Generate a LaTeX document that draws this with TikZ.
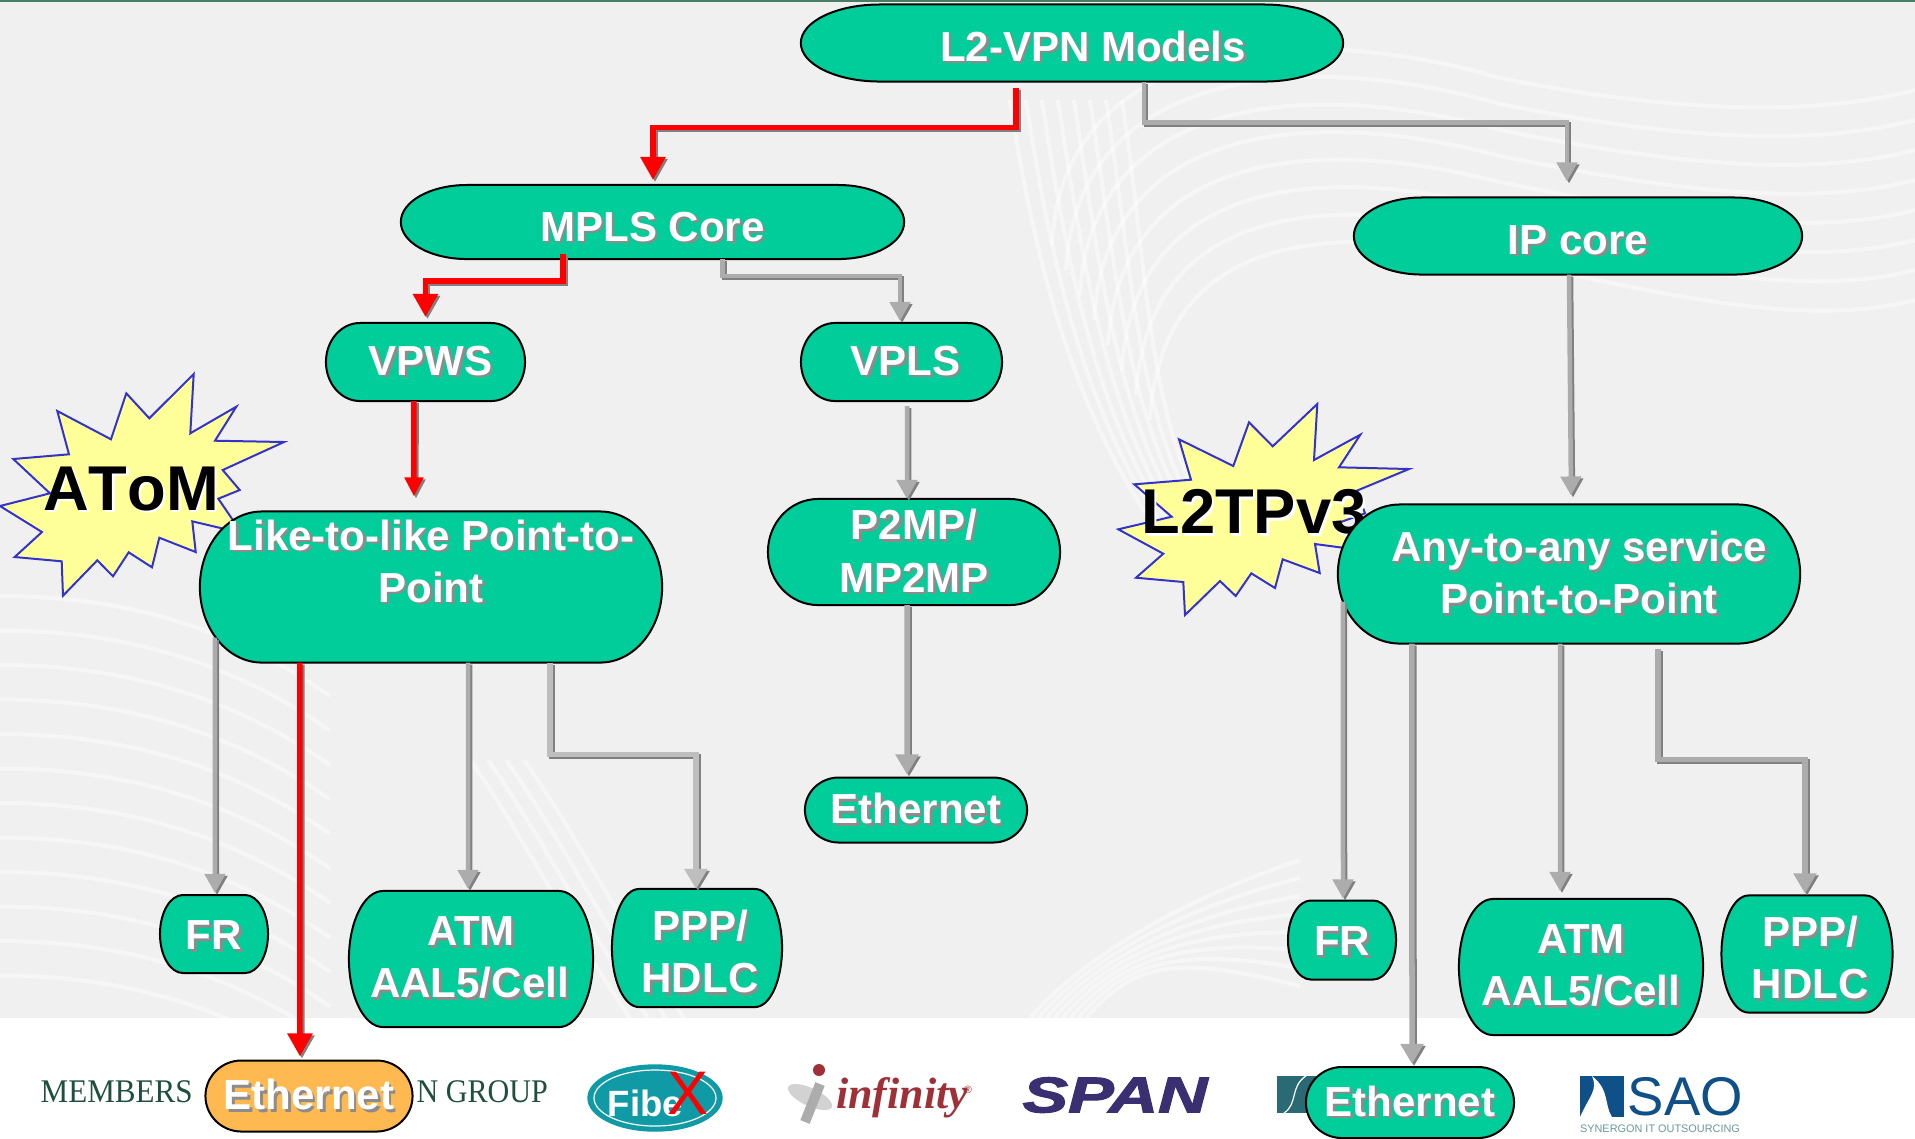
\documentclass[tikz,border=0pt]{standalone}
\usepackage{fontspec}
\usepackage{graphicx}
\setmainfont{Liberation Sans}
\newfontfamily\logoserif{Liberation Serif}
\newfontfamily\nokern[Kerning=Off]{Liberation Sans}
\newfontfamily\spanfont[BoldItalicFeatures={FakeBold=2}]{Liberation Sans}
\usetikzlibrary{arrows.meta}
\definecolor{nodegreen}{RGB}{0,205,154}
\definecolor{nodeorange}{RGB}{255,185,80}
\definecolor{backgray}{RGB}{240,240,240}
\definecolor{topgreen}{RGB}{70,125,100}
\definecolor{txtshadow}{RGB}{140,140,140}
\definecolor{linegray}{RGB}{172,172,172}
\definecolor{lightline}{RGB}{190,190,190}
\definecolor{lineshadow}{RGB}{128,128,128}
\definecolor{starfill}{RGB}{255,255,153}
\definecolor{starline}{RGB}{51,51,204}
\definecolor{fibeteal}{RGB}{15,154,165}
\definecolor{infred}{RGB}{160,48,56}
\definecolor{spanblue}{RGB}{58,47,112}
\definecolor{saoblue}{RGB}{15,80,136}
\definecolor{memgreen}{RGB}{31,79,63}
\definecolor{boxteal}{RGB}{42,106,116}

\makeatletter
\pgfdeclareshape{terminator}{
  \inheritsavedanchors[from=rectangle]
  \inheritanchorborder[from=rectangle]
  \inheritanchor[from=rectangle]{center}
  \inheritanchor[from=rectangle]{north}
  \inheritanchor[from=rectangle]{south}
  \inheritanchor[from=rectangle]{east}
  \inheritanchor[from=rectangle]{west}
  \backgroundpath{
    \southwest \edef\termxa{\the\pgf@x}\edef\termya{\the\pgf@y}
    \northeast \edef\termxb{\the\pgf@x}\edef\termyb{\the\pgf@y}
    \pgfmathsetlengthmacro{\termry}{(\termyb-\termya)/2}
    \pgfpathmoveto{\pgfpoint{\termxa+\termrx}{\termyb}}
    \pgfpathlineto{\pgfpoint{\termxb-\termrx}{\termyb}}
    \pgfpatharc{90}{-90}{\termrx and \termry}
    \pgfpathlineto{\pgfpoint{\termxa+\termrx}{\termya}}
    \pgfpatharc{270}{90}{\termrx and \termry}
    \pgfpathclose
  }
}
\makeatother

\newcommand{\shline}[2][txtshadow]{\makebox[0pt][l]{\hspace{.025cm}\raisebox{-.025cm}{\textcolor{#1}{#2}}}#2}
\newcommand{\lowered}[1]{\rule{0pt}{#1}}
\newcommand{\connector}[2]{\draw [#1, shadowcopy] #2; \draw [#1] #2;}

\tikzset{
  terminal/.style n args={3}{shape=terminator, draw=black, line width=.02cm, fill=nodegreen, text=white,
    minimum width=#1, minimum height=#2, inner sep=0pt, outer sep=0pt, align=center,
    font=\fontsize{11.95}{14.8}\selectfont\bfseries, /utils/exec={\def\termrx{#3}}},
  starshape/.style={draw=starline, fill=starfill, line width=.02cm, line join=miter},
  starlabel/.style={text=black, inner sep=0pt, font=\fontsize{18}{20}\selectfont\bfseries},
  streak/.style={draw=white, line width=.04cm, opacity=.45},
  arrow/.style={-{Triangle[width=.2cm,length=.19cm]}, draw=linegray, line width=.045cm},
  widearrow/.style={arrow, -{Triangle[width=.22cm,length=.2cm]}, line width=.055cm},
  lightarrow/.style={widearrow, draw=lightline},
  redarrow/.style={arrow, -{Triangle[width=.24cm,length=.23cm]}, draw=red, line width=.055cm},
  smallredarrow/.style={redarrow, -{Triangle[width=.18cm,length=.19cm]}},
  shadowcopy/.style={draw=lineshadow, transform canvas={xshift=.02cm,yshift=-.02cm}},
  logotext/.style={inner sep=0pt}
}

\begin{document}
\begin{tikzpicture}[x=.01cm,y=-.01cm]
    \useasboundingbox (0,0) rectangle (1915,1138);

    % background
    \fill [backgray] (0,0) rectangle (1915,1018);
    \fill [topgreen] (0,0) rectangle (1915,2);
    \begin{scope}
        \clip (0,2) rectangle (1915,1018);
        \foreach \i in {0,...,7} {
            \draw [streak] (1150-14*\i,420-25*\i) .. controls (1160-14*\i,250-30*\i) and (1300,215-28*\i) .. (1500,260-26*\i)
                .. controls (1650,290-26*\i) and (1800,330-30*\i) .. (1915,300-30*\i);
            \draw [streak] (1010+16*\i,100) .. controls (1040+16*\i,300) and (1090+8*\i,450) .. (1180+8*\i,560);
            \draw [streak] (1030+8*\i,1018) .. controls (1080+8*\i,960) and (1180,900+8*\i) .. (1300,860+18*\i);
        }
        \foreach \i in {0,...,11}
            \draw [streak] (0,596+34.5*\i) .. controls (120,596+34.5*\i) and (230,626+34.5*\i) .. (330,696+34.5*\i);
        \foreach \i in {0,...,3}
            \draw [streak] (470+18*\i,760) .. controls (520+18*\i,830) and (570+18*\i,930) .. (630+18*\i,1018);
    \end{scope}

    % logos along the bottom
    \node (members) [logotext, anchor=west, text=memgreen, font=\logoserif\fontsize{9.4}{10}\selectfont] at (40,1092) {\scalebox{.94}[1]{MEMBERS}};
    \node (group) [logotext, anchor=west, text=memgreen, font=\logoserif\fontsize{9.4}{10}\selectfont] at (416,1092) {\scalebox{.91}[1]{N GROUP}};

    \draw [fill=fibeteal, draw=fibeteal] (655,1098) ellipse (67 and 33);
    \draw [draw=white, line width=.012cm] (655,1098) ellipse (61 and 28);
    \node (fibe) [logotext, text=white, font=\fontsize{10.4}{12}\selectfont\bfseries] at (645.5,1103) {Fibe};
    \node (fibex) [logotext, text=red, font=\fontsize{17.5}{18}\selectfont] at (688,1093) {X};

    \fill [rotate around={-25:(810,1097)}, gray!35] (810,1097) ellipse (24 and 9);
    \draw [line width=.1cm, gray!65] (820,1084) -- (805,1122);
    \fill [infred] (819,1070) circle (6);
    \node (infinity) [logotext, text=infred, font=\logoserif\bfseries\itshape\fontsize{12.5}{14}\selectfont] at (902,1098) {infinity};
    \node (regmark) [logotext, text=infred, font=\fontsize{3}{4}\selectfont] at (968,1090) {®};

    \node (span) [logotext, text=spanblue, font=\spanfont\fontsize{14.3}{16}\selectfont\bfseries\itshape] at (1115,1095) {\scalebox{1.36}[1]{SPAN}};

    \fill [boxteal] (1277,1076) rectangle (1330,1113);
    \draw [white, line width=.012cm] (1284,1113) .. controls (1298,1104) and (1290,1086) .. (1306,1076);

    \fill [saoblue] (1580,1076) rectangle (1624,1117);
    \fill [white] (1580,1117) .. controls (1590,1095) and (1598,1090) .. (1592,1076)
        .. controls (1610,1090) and (1604,1105) .. (1612,1117) -- cycle;
    \node (sao) [logotext, anchor=west, text=saoblue, font=\fontsize{15.5}{17}\selectfont] at (1627,1097) {SAO};
    \node (synergon) [logotext, text=boxteal!70, font=\fontsize{3.1}{4}\selectfont] at (1660,1129) {SYNERGON IT OUTSOURCING};

    % stars
    \draw [starshape] (193.7,374) -- (190.3,433.3) -- (236.3,406.7) -- (215,440.7) -- (284,442) -- (222.7,470) -- (239.7,490)
        -- (218.3,498.7) -- (241.7,533) -- (192.3,521.3) -- (195.7,552) -- (159.3,537.7) -- (152,567.3) -- (128.7,552.3)
        -- (113,576.3) -- (97.3,560.3) -- (63,595.7) -- (61.7,561.3) -- (14.7,557) -- (42,532) -- (0,506) -- (50,493.3)
        -- (13.3,459) -- (69,454.3) -- (57.3,411) -- (111,439.3) -- (126.3,393.3) -- (149.3,418.3) -- cycle;
    \draw [starshape] (1317.3,404) -- (1314,460) -- (1360.3,434.7) -- (1339,467.3) -- (1409,469) -- (1356.7,490.7) -- (1365,513.3)
        -- (1338,523) -- (1360,550) -- (1315,544) -- (1319.7,573) -- (1282.7,559.3) -- (1275,588) -- (1251.3,573.3)
        -- (1235.7,596) -- (1220,581) -- (1185,615) -- (1183.3,582) -- (1136,577.7) -- (1163.3,553.7) -- (1118.3,529.3)
        -- (1171.7,516.7) -- (1134.3,484.3) -- (1191,479.7) -- (1179,439.3) -- (1233.3,466) -- (1249,422.3) -- (1272.7,446.3) -- cycle;
    \node (atom) [starlabel] at (131,490) {\nokern\bfseries\shline[white]{AToM}};
    \node (l2tp) [starlabel] at (1254,513) {\shline[white]{L2TPv3}};

    % nodes
    \node (l2vpn) [terminal={5.42cm}{.77cm}{.79cm}] at (1072,43) {\lowered{.39cm}\hspace*{.42cm}\shline{L2-VPN Models}};
    \node (mpls) [terminal={5.03cm}{.74cm}{.66cm}] at (652.5,222) {\lowered{.41cm}\shline{MPLS Core}};
    \node (ipcore) [terminal={4.48cm}{.77cm}{.68cm}] at (1578,236) {\lowered{.39cm}\shline{IP core}};
    \node (vpws) [terminal={1.99cm}{.78cm}{.34cm}] at (425.5,362) {\hspace*{.1cm}\shline{VPWS}};
    \node (vpls) [terminal={2.01cm}{.78cm}{.34cm}] at (901.5,362) {\hspace*{.08cm}\shline{VPLS}};
    \node (like) [terminal={4.62cm}{1.51cm}{.62cm}] at (431,587) {\shline{Like-to-like Point-to-}\\\shline{Point}\\\mbox{}};
    \node (p2mp) [terminal={2.92cm}{1.06cm}{.5cm}] at (914,552) {\shline{P2MP/}\\\shline{MP2MP}};
    \node (any) [terminal={4.62cm}{1.39cm}{.62cm}] at (1569,574) {\hspace*{.2cm}\shline{Any-to-any service}\\\hspace*{.2cm}\shline{Point-to-Point}};
    \node (ethmid) [terminal={2.22cm}{.65cm}{.34cm}] at (916,810) {\shline{Ethernet}};
    \node (frleft) [terminal={1.08cm}{.78cm}{.23cm}] at (214,934) {\lowered{.34cm}\shline{FR}};
    \node (atmleft) [terminal={2.44cm}{1.36cm}{.34cm}] at (471,959) {\shline{ATM}\\\shline{AAL5/Cell}\hspace*{.03cm}};
    \node (pppleft) [terminal={1.7cm}{1.18cm}{.27cm}] at (697,948) {\lowered{.4cm}\hspace*{.06cm}\shline{PPP/}\\\hspace*{.06cm}\shline{HDLC}};
    \node (frright) [terminal={1.08cm}{.79cm}{.23cm}] at (1342,940) {\lowered{.34cm}\shline{FR}};
    \node (atmright) [terminal={2.44cm}{1.36cm}{.34cm}] at (1581,967) {\shline{ATM}\\\shline{AAL5/Cell}};
    \node (pppright) [terminal={1.71cm}{1.17cm}{.27cm}] at (1807,954) {\lowered{.4cm}\hspace*{.06cm}\shline{PPP/}\\\hspace*{.06cm}\shline{HDLC}};
    \node (ethleft) [terminal={2.07cm}{.71cm}{.36cm}, fill=nodeorange] at (309,1096) {\shline{Ethernet}};
    \node (ethright) [terminal={2.08cm}{.71cm}{.36cm}] at (1410,1102.5) {\shline{Ethernet}};

    % connectors
    \connector{redarrow}{([xshift=-.56cm,yshift=-.06cm]l2vpn.south) -- ++(0,40) -| ([xshift=.005cm,yshift=.05cm]mpls.north)}
    \connector{arrow}{([xshift=.72cm]l2vpn.south) -- ++(0,41) -| ([xshift=-.11cm,yshift=.16cm]ipcore.north)}
    \connector{redarrow}{([xshift=-.895cm,yshift=.05cm]mpls.south) -- ++(0,27) -| ([yshift=.06cm]vpws.north)}
    \connector{arrow}{([xshift=.7cm]mpls.south) -- ++(0,17) -| ([xshift=-.015cm,yshift=.02cm]vpls.north)}
    \connector{smallredarrow}{([xshift=-.115cm]vpws.south) -- ([xshift=-.17cm,yshift=.15cm]like.north)}
    \connector{arrow}{([xshift=.055cm,yshift=-.05cm]vpls.south) -- ([xshift=-.07cm]p2mp.north)}
    \connector{widearrow}{([xshift=-.07cm]p2mp.south) -- ([xshift=-.09cm,yshift=.03cm]ethmid.north)}
    \connector{arrow}{([xshift=-2.16cm,yshift=.25cm]like.south) -- ([xshift=.01cm,yshift=.02cm]frleft.north)}
    \connector{redarrow}{([xshift=-1.31cm]like.south) -- ([xshift=-.09cm,yshift=.04cm]ethleft.north)}
    \connector{arrow}{([xshift=.37cm]like.south) -- ([xshift=-.03cm,yshift=.02cm]atmleft.north)}
    \connector{lightarrow}{([xshift=1.19cm]like.south) -- ++(0,92) -| ([xshift=-.01cm]pppleft.north)}
    \connector{arrow}{([xshift=-.09cm]ipcore.south) -- ([xshift=.02cm,yshift=.09cm]any.north)}
    \connector{arrow}{([xshift=-2.26cm,yshift=.42cm]any.south) -- ([xshift=.01cm,yshift=.02cm]frright.north)}
    \connector{widearrow}{([xshift=-1.57cm]any.south) -- ([xshift=.02cm,yshift=.03cm]ethright.north)}
    \connector{arrow}{([xshift=-.09cm]any.south) -- ([xshift=-.21cm,yshift=.08cm]atmright.north)}
    \connector{widearrow}{([xshift=.89cm,yshift=-.05cm]any.south) -- ++(0,111) -| ([xshift=-.02cm,yshift=.02cm]pppright.north)}
\end{tikzpicture}
\end{document}
